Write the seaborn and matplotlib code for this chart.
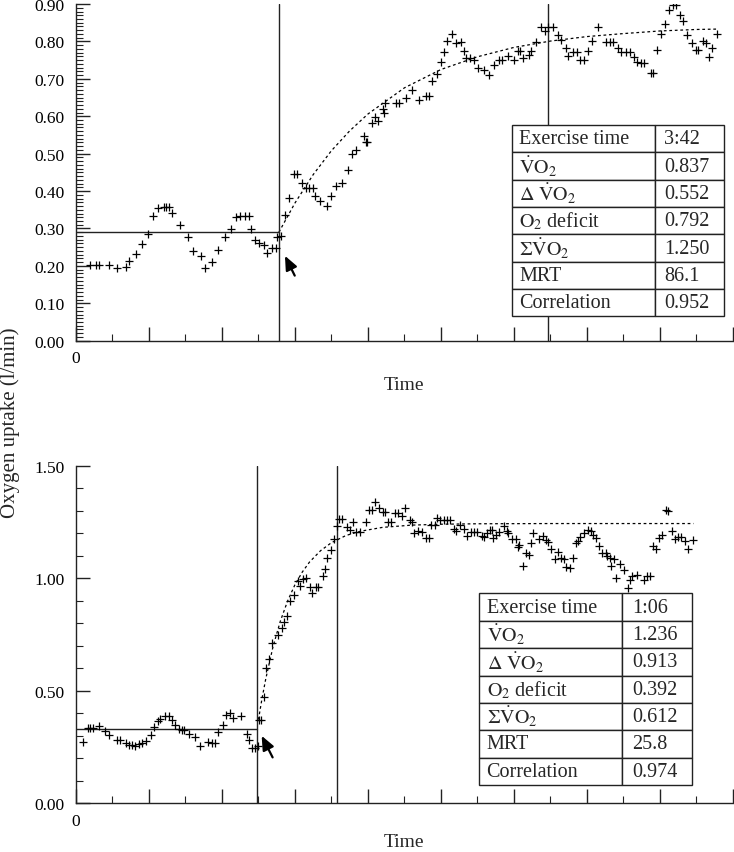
import numpy as np
import pandas as pd
import matplotlib
matplotlib.use('Agg')
import matplotlib.pyplot as plt
from matplotlib.ticker import MultipleLocator, FormatStrFormatter, FuncFormatter
import seaborn as sns

# ---- data (time in min, VO2 in l/min) ----
top_t = [0.19, 0.28, 0.32, 0.45, 0.56, 0.68, 0.72, 0.82, 0.91, 0.98, 1.05, 1.12, 1.20, 1.23, 1.27,
         1.32, 1.42, 1.53, 1.60, 1.71, 1.77, 1.86, 1.95, 2.04, 2.12, 2.19, 2.25, 2.31, 2.37, 2.40,
         2.45, 2.51, 2.58, 2.62, 2.69, 2.74, 2.76, 2.81, 2.87, 2.92, 2.99, 3.03, 3.09, 3.15, 3.19,
         3.25, 3.27, 3.35, 3.44, 3.49, 3.56, 3.65, 3.72, 3.78, 3.83, 3.94, 3.97, 3.99, 4.05, 4.10,
         4.14, 4.20, 4.22, 4.24, 4.38, 4.42, 4.52, 4.61, 4.70, 4.79, 4.83, 4.88, 4.94, 5.00, 5.04,
         5.09, 5.15, 5.21, 5.27, 5.32, 5.35, 5.40, 5.45, 5.51, 5.59, 5.66, 5.73, 5.80, 5.84, 5.92,
         6.00, 6.05, 6.09, 6.13, 6.20, 6.23, 6.30, 6.37, 6.43, 6.47, 6.54, 6.60, 6.64, 6.71, 6.74,
         6.81, 6.86, 6.90, 6.96, 7.01, 7.07, 7.15, 7.26, 7.31, 7.36, 7.43, 7.47, 7.54, 7.59, 7.64,
         7.68, 7.74, 7.78, 7.88, 7.91, 7.96, 8.02, 8.07, 8.12, 8.18, 8.22, 8.28, 8.32, 8.37, 8.44,
         8.49, 8.52, 8.59, 8.63, 8.67, 8.72, 8.78]
top_v = [0.202, 0.202, 0.202, 0.202, 0.194, 0.196, 0.212, 0.232, 0.259, 0.284, 0.333, 0.354, 0.358, 0.358, 0.358,
         0.341, 0.309, 0.277, 0.239, 0.227, 0.195, 0.211, 0.243, 0.276, 0.299, 0.330, 0.334, 0.334, 0.334, 0.299,
         0.270, 0.261, 0.256, 0.234, 0.247, 0.247, 0.278, 0.281, 0.336, 0.382, 0.446, 0.446, 0.421, 0.407, 0.407,
         0.407, 0.388, 0.374, 0.359, 0.388, 0.413, 0.422, 0.456, 0.499, 0.511, 0.547, 0.532, 0.532, 0.581, 0.599,
         0.588, 0.620, 0.609, 0.636, 0.635, 0.635, 0.649, 0.670, 0.644, 0.653, 0.653, 0.694, 0.713, 0.744, 0.773,
         0.801, 0.820, 0.795, 0.798, 0.774, 0.756, 0.756, 0.751, 0.728, 0.724, 0.709, 0.737, 0.751, 0.751, 0.762,
         0.750, 0.774, 0.774, 0.755, 0.765, 0.774, 0.798, 0.838, 0.829, 0.838, 0.838, 0.817, 0.805, 0.783, 0.762,
         0.773, 0.773, 0.751, 0.751, 0.775, 0.801, 0.838, 0.798, 0.798, 0.798, 0.783, 0.771, 0.771, 0.771, 0.759,
         0.746, 0.742, 0.742, 0.716, 0.716, 0.777, 0.821, 0.846, 0.884, 0.898, 0.898, 0.871, 0.855, 0.818, 0.795,
         0.777, 0.777, 0.800, 0.795, 0.758, 0.783, 0.820]

bot_t = [0.10, 0.16, 0.19, 0.23, 0.31, 0.40, 0.45, 0.56, 0.60, 0.68, 0.73, 0.77, 0.81, 0.87, 0.90,
         0.96, 1.03, 1.07, 1.12, 1.15, 1.22, 1.27, 1.32, 1.36, 1.41, 1.45, 1.48, 1.55, 1.63, 1.70,
         1.81, 1.86, 1.91, 1.95, 2.01, 2.06, 2.11, 2.15, 2.26, 2.34, 2.37, 2.41, 2.45, 2.50, 2.51,
         2.53, 2.57, 2.60, 2.64, 2.69, 2.77, 2.82, 2.85, 2.89, 2.93, 2.99, 3.04, 3.07, 3.11, 3.15,
         3.20, 3.24, 3.29, 3.32, 3.38, 3.41, 3.44, 3.49, 3.53, 3.58, 3.61, 3.65, 3.71, 3.76, 3.80,
         3.84, 3.89, 3.97, 4.01, 4.05, 4.09, 4.15, 4.20, 4.23, 4.28, 4.32, 4.37, 4.41, 4.46, 4.51,
         4.57, 4.60, 4.63, 4.69, 4.74, 4.79, 4.83, 4.86, 4.92, 4.94, 4.99, 5.04, 5.09, 5.13, 5.18,
         5.21, 5.26, 5.31, 5.36, 5.41, 5.45, 5.50, 5.56, 5.59, 5.63, 5.67, 5.70, 5.72, 5.75, 5.80,
         5.86, 5.90, 5.92, 5.98, 6.03, 6.05, 6.07, 6.13, 6.16, 6.20, 6.23, 6.26, 6.35, 6.40, 6.44,
         6.47, 6.51, 6.56, 6.60, 6.65, 6.68, 6.72, 6.77, 6.81, 6.85, 6.88, 6.91, 6.96, 7.02, 7.05,
         7.08, 7.12, 7.16, 7.21, 7.26, 7.28, 7.32, 7.33, 7.37, 7.40, 7.45, 7.51, 7.56, 7.59, 7.62,
         7.69, 7.78, 7.82, 7.87, 7.91, 7.94, 7.99, 8.03, 8.08, 8.11, 8.16, 8.20, 8.25, 8.29, 8.34,
         8.38, 8.46]
bot_v = [0.270, 0.332, 0.332, 0.332, 0.341, 0.319, 0.304, 0.280, 0.280, 0.265, 0.258, 0.258, 0.252, 0.262, 0.265,
         0.274, 0.304, 0.337, 0.363, 0.373, 0.388, 0.388, 0.370, 0.348, 0.329, 0.326, 0.323, 0.307, 0.295, 0.255,
         0.270, 0.265, 0.265, 0.317, 0.347, 0.393, 0.399, 0.379, 0.388, 0.307, 0.281, 0.245, 0.245, 0.252, 0.370,
         0.370, 0.470, 0.599, 0.640, 0.710, 0.748, 0.777, 0.803, 0.833, 0.897, 0.926, 0.986, 0.966, 0.996, 0.999,
         0.962, 0.934, 0.962, 0.962, 1.008, 1.040, 1.092, 1.126, 1.174, 1.233, 1.263, 1.263, 1.229, 1.214, 1.251,
         1.206, 1.206, 1.251, 1.304, 1.304, 1.340, 1.310, 1.293, 1.293, 1.251, 1.251, 1.288, 1.288, 1.275, 1.310,
         1.258, 1.251, 1.201, 1.211, 1.204, 1.180, 1.180, 1.236, 1.236, 1.266, 1.258, 1.258, 1.258, 1.258, 1.218,
         1.209, 1.236, 1.218, 1.189, 1.204, 1.204, 1.204, 1.189, 1.184, 1.199, 1.215, 1.215, 1.177, 1.192, 1.206,
         1.230, 1.208, 1.199, 1.174, 1.174, 1.137, 1.147, 1.055, 1.110, 1.103, 1.156, 1.201, 1.174, 1.189, 1.171,
         1.159, 1.132, 1.085, 1.117, 1.088, 1.085, 1.051, 1.044, 1.088, 1.157, 1.164, 1.181, 1.201, 1.214, 1.211,
         1.193, 1.178, 1.144, 1.110, 1.110, 1.100, 1.089, 1.055, 1.085, 1.002, 1.063, 1.036, 0.956, 0.992, 1.011,
         1.015, 0.992, 1.008, 1.011, 1.141, 1.129, 1.177, 1.192, 1.304, 1.298, 1.211, 1.174, 1.181, 1.181, 1.164,
         1.132, 1.171]

# fitted curves (dashed)
top_fit_t = [2.78, 3.0, 3.25, 3.5, 3.75, 4.0, 4.5, 5.0, 5.5, 6.0, 6.5, 7.0, 7.5, 8.0, 8.5, 8.78]
top_fit_v = [0.290, 0.368, 0.444, 0.508, 0.561, 0.606, 0.676, 0.725, 0.759, 0.784, 0.801, 0.813, 0.821, 0.828, 0.832, 0.833]
bot_fit_t = [2.50, 2.55, 2.60, 2.70, 2.80, 2.90, 3.00, 3.10, 3.20, 3.35, 3.50, 3.70, 3.90, 4.20, 4.60, 5.00, 5.50, 6.50, 8.46]
bot_fit_v = [0.371, 0.467, 0.552, 0.696, 0.809, 0.899, 0.971, 1.027, 1.072, 1.122, 1.158, 1.190, 1.209, 1.226, 1.236, 1.240, 1.242, 1.243, 1.243]

# baseline level, exercise onset / end
top_base, top_on, top_end = 0.29, 2.78, 6.47
bot_base, bot_on, bot_end = 0.33, 2.48, 3.58

row_labels = ['Exercise time', r'$\dot{\mathrm{V}}\mathrm{O}_2$', r'$\Delta\ \dot{\mathrm{V}}\mathrm{O}_2$',
              r'$\mathrm{O}_2$ deficit', r'$\Sigma\dot{\mathrm{V}}\mathrm{O}_2$', 'MRT', 'Correlation']
top_table = ['3:42', '0.837', '0.552', '0.792', '1.250', '86.1', '0.952']
bot_table = ['1:06', '1.236', '0.913', '0.392', '0.612', '25.8', '0.974']

top_arrow = ((2.863, 0.227), (2.997, 0.174))
bot_arrow = ((2.544, 0.299), (2.694, 0.203))

sns.set_theme(style='white')
plt.rcParams['font.family'] = ['Liberation Serif', 'DejaVu Serif']
plt.rcParams['mathtext.fontset'] = 'stix'

LINE = '#222222'

fig = plt.figure(figsize=(7.34, 8.53), dpi=100)
ax1 = fig.add_axes([0.1035, 0.5994, 0.895, 0.3947])
ax2 = fig.add_axes([0.1035, 0.0574, 0.895, 0.3954])


def draw_panel(ax, t, v, fit_t, fit_v, base, t_on, t_end, values, arrow, ylim, ymaj, ymin,
               tbl_box, xpad):
    df = pd.DataFrame({'t': t, 'v': v})
    sns.scatterplot(data=df, x='t', y='v', ax=ax, marker='+', s=32, color='black',
                    linewidth=0.9, zorder=3)
    fit = pd.DataFrame({'t': fit_t, 'v': fit_v})
    sns.lineplot(data=fit, x='t', y='v', ax=ax, color='black', lw=0.9,
                 linestyle=(0, (2.2, 2.2)), zorder=2)
    ax.plot([0, t_on], [base, base], color=LINE, lw=1.0, zorder=2)
    ax.axvline(t_on, color=LINE, lw=1.0, zorder=2)
    ax.axvline(t_end, color=LINE, lw=1.0, zorder=2)
    ax.annotate('', xy=arrow[0], xytext=arrow[1],
                arrowprops=dict(arrowstyle='-|>,head_length=0.7,head_width=0.3',
                                color='black', lw=1.6, shrinkA=0, shrinkB=0),
                zorder=4)

    ax.set_xlim(0, 9)
    ax.set_ylim(*ylim)
    ax.xaxis.set_major_locator(MultipleLocator(1))
    ax.xaxis.set_minor_locator(MultipleLocator(0.5))
    ax.xaxis.set_major_formatter(FuncFormatter(lambda x, p: '0' if abs(x) < 1e-9 else ''))
    ax.yaxis.set_major_locator(MultipleLocator(ymaj))
    ax.yaxis.set_minor_locator(MultipleLocator(ymin))
    ax.yaxis.set_major_formatter(FormatStrFormatter('%.2f'))
    ax.tick_params(which='both', direction='in', bottom=True, left=True, top=False, right=False,
                   colors=LINE, labelcolor='black', labelsize=12.5)
    ax.tick_params(which='major', length=10, width=1.0)
    ax.tick_params(which='minor', length=5, width=0.8)
    ax.tick_params(axis='y', which='major', pad=8)
    ax.tick_params(axis='x', which='major', pad=7)
    for s in ['top', 'right']:
        ax.spines[s].set_visible(False)
    for s in ['left', 'bottom']:
        ax.spines[s].set_color(LINE)
        ax.spines[s].set_linewidth(1.0)
    ax.set_xlabel('Time', fontsize=14, labelpad=xpad)
    ax.set_ylabel('')

    cells = [[lab, val] for lab, val in zip(row_labels, values)]
    tbl = ax.table(cellText=cells, colWidths=[0.673, 0.327], cellLoc='left', bbox=tbl_box)
    tbl.auto_set_font_size(False)
    tbl.set_fontsize(14.5)
    tbl.set_zorder(6)
    for (r, c), cell in tbl.get_celld().items():
        cell.set_edgecolor(LINE)
        cell.set_linewidth(1.0)
        cell.set_facecolor('white')
        cell.PAD = 0.053 if c == 0 else 0.14


draw_panel(ax1, top_t, top_v, top_fit_t, top_fit_v, top_base, top_on, top_end, top_table,
           top_arrow, (0, 0.9), 0.1, 0.01, [0.663, 0.0725, 0.3236, 0.568], 7)
draw_panel(ax2, bot_t, bot_v, bot_fit_t, bot_fit_v, bot_base, bot_on, bot_end, bot_table,
           bot_arrow, (0, 1.5), 0.5, 0.1, [0.6134, 0.0534, 0.3242, 0.568], 3)

fig.text(0.014, 1 - 423 / 853, 'Oxygen uptake (l/min)', rotation=90, ha='center', va='center',
         fontsize=15)

fig.savefig('out.png', dpi=100)
